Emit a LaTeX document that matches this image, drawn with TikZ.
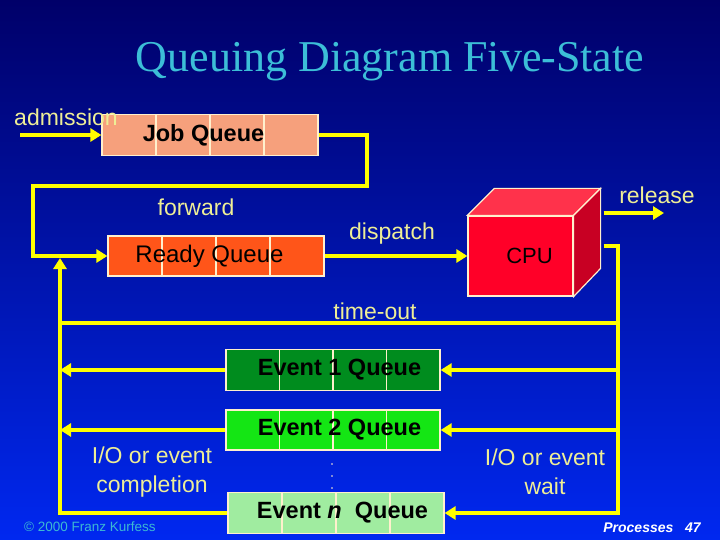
\documentclass[tikz,border=0pt]{standalone}
\usepackage{fontspec}
\setmainfont{Liberation Sans}
\newfontfamily\titlefont{Liberation Serif}
\usetikzlibrary{arrows.meta,calc}
\definecolor{bgtop}{RGB}{0,0,105}
\definecolor{bgmid}{RGB}{0,12,175}
\definecolor{bgbot}{RGB}{0,40,240}
\definecolor{wire}{RGB}{255,255,0}
\definecolor{pale}{RGB}{238,238,150}
\definecolor{edge}{RGB}{255,240,205}
\definecolor{salmon}{RGB}{246,160,124}
\definecolor{ember}{RGB}{255,85,25}
\definecolor{pine}{RGB}{0,140,30}
\definecolor{lime}{RGB}{20,230,20}
\definecolor{mint}{RGB}{160,236,160}
\definecolor{cpured}{RGB}{255,0,40}
\definecolor{cputop}{RGB}{255,50,75}
\definecolor{cpuside}{RGB}{200,0,35}
\definecolor{teal}{RGB}{60,185,210}
\definecolor{skyline}{RGB}{60,190,215}
\tikzset{
  queue/.style={draw=edge,line width=1.2pt,minimum width=216pt,minimum height=41pt,inner sep=0pt,
    font=\fontsize{23.5}{26}\selectfont\bfseries,
    path picture={\foreach \f in {0.25,0.5,0.75}
      \draw[edge,line width=1.2pt] ($(path picture bounding box.north west)!\f!(path picture bounding box.north east)$)
        -- ($(path picture bounding box.south west)!\f!(path picture bounding box.south east)$);}},
  flow/.style={wire,line width=4.5pt,-{Triangle[length=11pt,width=13pt]}},
  plain/.style={wire,line width=4.5pt},
  tag/.style={text=pale,font=\fontsize{23}{29}\selectfont,align=center}
}
\begin{document}
\begin{tikzpicture}[x=1pt,y=-1pt]
  \useasboundingbox (0,0) rectangle (720,540);
  \shade[top color=bgtop,middle color=bgmid,bottom color=bgbot] (0,0) rectangle (720,540);
  \node[text=skyline,font=\titlefont\fontsize{44}{50}\selectfont] (title) at (390,62) {Queuing Diagram Five-State};
  % queues
  \node[queue,fill=salmon] (jobq) at (210,135) {\hspace*{-13pt}Job Queue};
  \node[queue,fill=ember,minimum height=40pt,font=\fontsize{24}{26}\selectfont] (readyq) at (216,256) {\hspace*{-13pt}Ready Queue};
  \node[queue,fill=pine,minimum width=214pt] (ev1) at (333,370) {\hspace*{13pt}Event 1 Queue};
  \node[queue,fill=lime,minimum width=214pt,minimum height=40pt] (ev2) at (333,430) {\hspace*{13pt}Event 2 Queue};
  \node[queue,fill=mint] (evn) at (336,513) {\hspace*{13pt}Event \textit{n}\ \ Queue};
  \foreach \y in {464,476,488} \fill[edge] (332,\y) circle (0.8);
  % cpu cube
  \node[draw=edge,line width=1.2pt,fill=cpured,minimum width=105pt,minimum height=80pt,inner sep=0pt,
    font=\fontsize{22}{26}\selectfont] (cpu) at (520.5,256) {\hspace*{18pt}CPU};
  \draw[edge,line width=1.2pt,fill=cputop] (cpu.north west) -- ++(27,-27) -- ($(cpu.north east)+(27,-27)$) -- (cpu.north east) -- cycle;
  \draw[edge,line width=1.2pt,fill=cpuside] (cpu.north east) -- ++(27,-27) -- ++(0,80) -- (cpu.south east) -- cycle;
  % connectors
  \coordinate (admit) at (20,135);
  \coordinate (relout) at (664,213);
  \coordinate (wakeup) at (60,258);
  \coordinate (waitbus) at (618,513);
  \draw[flow] (admit) -- (jobq.west);
  \draw[flow] (jobq.east) -| (367,186) -| (33,256) -- (readyq.west);
  \draw[flow] (readyq.east) -- (cpu.west);
  \draw[flow] ([shift={(30pt,43pt)}]cpu.east) -- (relout);
  \draw[flow] ([shift={(30pt,10pt)}]cpu.east) -| (waitbus) -- (evn.east);
  \draw[flow] (evn.west) -| (wakeup);
  \draw[plain] (waitbus |- 0,323) -- (wakeup |- 0,323);
  \draw[flow] (ev1 -| waitbus) -- (ev1.east);
  \draw[flow] (ev2 -| waitbus) -- (ev2.east);
  \draw[flow] (ev1.west) -- (ev1 -| wakeup);
  \draw[flow] (ev2.west) -- (ev2 -| wakeup);
  % labels
  \node[tag] (admtag) at (66,117) {admission};
  \node[tag] (fwdtag) at (196,207) {forward};
  \node[tag] (distag) at (392,234) {dispatch};
  \node[tag] (reltag) at (657,195) {release};
  \node[tag] (tottag) at (375,311) {time-out};
  \node[tag] (comptag) at (152,472) {I/O or event\\completion};
  \node[tag] (waittag) at (545,472) {I/O or event\\wait};
  \node[text=teal,font=\fontsize{13.5}{15}\selectfont] (copy) at (90,527) {\textcopyright{} 2000 Franz Kurfess};
  \node[text=white,font=\fontsize{14}{16}\selectfont\bfseries\itshape] (page) at (652,528) {Processes\ \ \ 47};
\end{tikzpicture}
\end{document}
